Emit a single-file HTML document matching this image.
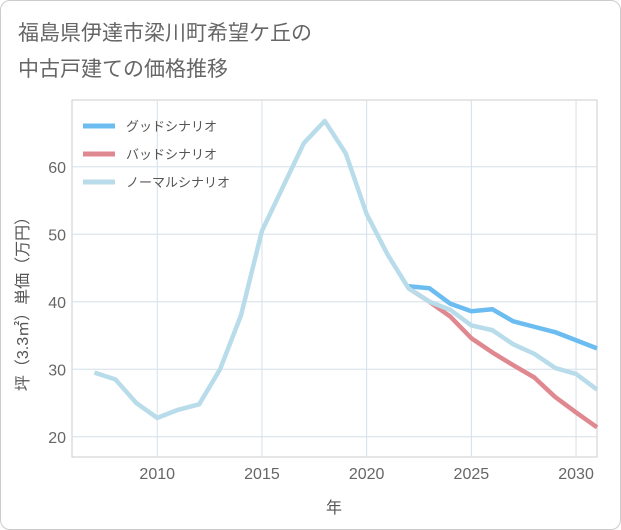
<!DOCTYPE html>
<html><head><meta charset="utf-8">
<style>
body{margin:0;background:#fff;font-family:"Liberation Sans","Noto Sans CJK JP",sans-serif;}
.card{position:absolute;left:0;top:0;width:619px;height:528px;border:1px solid #ccc;border-radius:10px;background:#fff;}
</style></head><body>
<div class="card"></div>
<svg id="c" width="621" height="530" style="position:absolute;left:0;top:0">
<text x="18" y="40" font-size="21" fill="#666">福島県伊達市梁川町希望ケ丘の</text>
<text x="18" y="76" font-size="21" fill="#666">中古戸建ての価格推移</text>
</svg>
<script>
const years=[2007,2008,2009,2010,2011,2012,2013,2014,2015,2016,2017,2018,2019,2020,2021,2022,2023,2024,2025,2026,2027,2028,2029,2030,2031];
const normal=[29.5,28.5,25,22.8,24,24.8,30,38,50.5,57,63.5,66.8,62,53,47,42,40,38.8,36.5,35.8,33.7,32.3,30.2,29.3,27];
const goodYears=[2022,2023,2024,2025,2026,2027,2028,2029,2030,2031];
const good=[42.3,42,39.7,38.6,38.9,37.1,36.3,35.5,34.3,33.1];
const bad=[42,40,37.8,34.6,32.5,30.6,28.8,25.9,23.6,21.4];
const xTicks=[2010,2015,2020,2025,2030];
const yTicks=[20,30,40,50,60];
const L=72,R=597,T=100,B=457,x0=2005.93,x1=2031,y0=17.0,y1=69.9;
const X=v=>L+(v-x0)/(x1-x0)*(R-L), Y=v=>B-(v-y0)/(y1-y0)*(B-T);
const s=document.getElementById('c'),NS='http://www.w3.org/2000/svg';
function mk(t,a,p){const e=document.createElementNS(NS,t);for(const k in a)e.setAttribute(k,a[k]);(p||s).appendChild(e);return e;}
const bg=mk('rect',{x:L,y:T,width:R-L,height:B-T,fill:'#fff',stroke:'#ccc'});


xTicks.forEach(v=>{const g=mk('line',{x1:X(v),x2:X(v),y1:T,y2:B,stroke:'#d5e0ea'});


const t=mk('text',{x:X(v),y:B+22,'text-anchor':'middle','font-size':16,fill:'#666'});t.textContent=v;

});
yTicks.forEach(v=>{const g=mk('line',{x1:L,x2:R,y1:Y(v),y2:Y(v),stroke:'#d5e0ea'});


const t=mk('text',{x:L-6,y:Y(v)+6,'text-anchor':'end','font-size':16,fill:'#666'});t.textContent=v;

});
function line(xs,ys,c,n){const p=mk('polyline',{points:xs.map((x,i)=>X(x)+','+Y(ys[i])).join(' '),fill:'none',stroke:c,'stroke-width':4.5,'stroke-linejoin':'round'});

}
line(goodYears,good,'#6bbcf0','series-good');
line(goodYears,bad,'#e08890','series-bad');
line(years,normal,'#b8dcea','series-normal');
const lg=[['グッドシナリオ','#6bbcf0'],['バッドシナリオ','#e08890'],['ノーマルシナリオ','#b8dcea']];
lg.forEach((d,i)=>{const y=126+i*28;const l=mk('line',{x1:83,x2:115,y1:y,y2:y,stroke:d[1],'stroke-width':5});


const t=mk('text',{x:126,y:y+5,'font-size':13,fill:'#555'});t.textContent=d[0];

});
const xt=mk('text',{x:334,y:513,'text-anchor':'middle','font-size':16,fill:'#555'});xt.textContent='年';


const yt=mk('text',{x:0,y:0,'text-anchor':'middle','font-size':16,fill:'#555',transform:'translate(28,300) rotate(-90)'});yt.textContent='坪（3.3㎡）単価（万円）';


</script>
</body></html>
